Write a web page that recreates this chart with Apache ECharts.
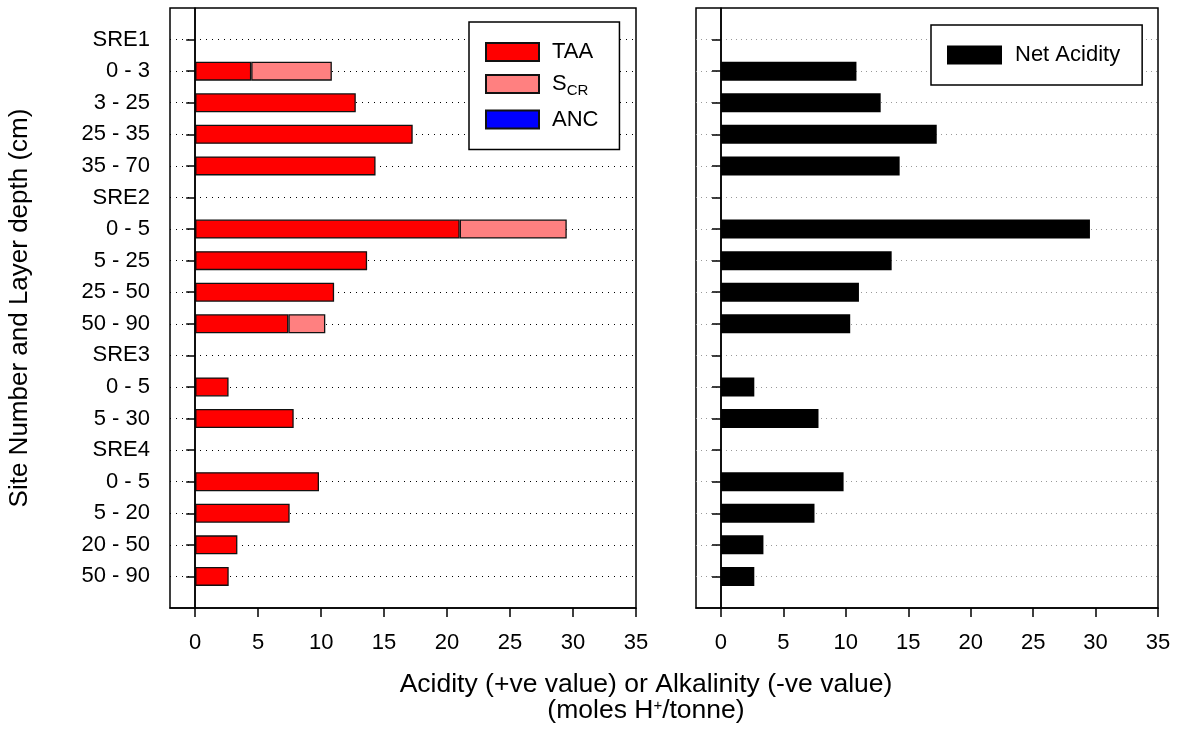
<!DOCTYPE html>
<html><head><meta charset="utf-8">
<script src="https://cdn.jsdelivr.net/npm/echarts@6/dist/echarts.min.js"></script>
<style>html,body{margin:0;padding:0;background:#fff}#c{width:1181px;height:740px}</style>
</head><body><div id="c"></div>
<script>
// Row labels (site headers and layer depths), top to bottom
const categories = ['SRE1','0 - 3','3 - 25','25 - 35','35 - 70','SRE2','0 - 5','5 - 25','25 - 50','50 - 90','SRE3','0 - 5','5 - 30','SRE4','0 - 5','5 - 20','20 - 50','50 - 90'];
// Titratable actual acidity
const taa = [null, 4.45, 12.75, 17.27, 14.32, null, 21.0, 13.65, 11.03, 7.4, null, 2.65, 7.82, null, 9.83, 7.5, 3.35, 2.66];
// Chromium reducible sulfur acidity
const scr = [null, 6.4, null, null, null, null, 8.5, null, null, 2.93, null, null, null, null, null, null, null, null];
// Acid neutralising capacity (none present)
const anc = [null, null, null, null, null, null, null, null, null, null, null, null, null, null, null, null, null, null];
// Net acidity
const netAcidity = [null, 10.85, 12.79, 17.28, 14.31, null, 29.55, 13.67, 11.05, 10.35, null, 2.67, 7.81, null, 9.82, 7.49, 3.4, 2.67];
const xTicks = [0, 5, 10, 15, 20, 25, 30, 35];

const FONT = 'Liberation Sans, Arial, Helvetica, sans-serif';
const pad = arr => [null].concat(arr, [null]);
const axisCats = [''].concat(categories, ['']);
const inner = (idx) => idx > 0 && idx < axisCats.length - 1;

function xAxisCfg(gi) {
  return {
    type: 'value', gridIndex: gi, min: -2, max: 35,
    axisLine: {show: true, onZero: false, lineStyle: {color: '#000', width: 1.5}},
    axisTick: {show: true, customValues: xTicks, length: 9, lineStyle: {color: '#000', width: 1.5}},
    axisLabel: {show: true, customValues: xTicks, fontSize: 22, color: '#000', fontFamily: FONT, margin: 24},
    splitLine: {show: false}
  };
}
function yAxisCfg(gi, showLabels, dotColor, dotType) {
  return {
    type: 'category', gridIndex: gi, inverse: true, boundaryGap: false, data: axisCats,
    axisLine: {show: true, lineStyle: {color: '#000', width: 1.5}},
    axisTick: {show: true, length: 9, interval: inner, lineStyle: {color: '#000', width: 1.5}},
    axisLabel: {show: showLabels, interval: 0, fontSize: 22, color: '#000', fontFamily: FONT, margin: 20},
    splitLine: {show: true, interval: inner, lineStyle: {color: dotColor, type: dotType, width: 1.2}}
  };
}
const zeroLine = {
  silent: true, symbol: 'none', label: {show: false},
  lineStyle: {color: '#000', type: 'solid', width: 1.5},
  emphasis: {disabled: true},
  data: [{xAxis: 0}]
};
const border = {borderColor: '#111', borderWidth: 1.3};

const option = {
  animation: false,
  backgroundColor: '#fff',
  grid: [
    {left: 170, right: 545, top: 8, bottom: 132, show: true, borderColor: '#000', borderWidth: 1.5, backgroundColor: 'transparent'},
    {left: 696, right: 23, top: 8, bottom: 132, show: true, borderColor: '#000', borderWidth: 1.5, backgroundColor: 'transparent'}
  ],
  xAxis: [xAxisCfg(0), xAxisCfg(1)],
  yAxis: [yAxisCfg(0, true, '#000', [1, 5]), yAxisCfg(1, false, '#999', [1, 4])],
  legend: [
    {
      data: ['TAA', 'SCR', 'ANC'], orient: 'vertical', left: 469, top: 22,
      padding: [19, 21, 19, 16], itemGap: 10, itemWidth: 53, itemHeight: 18, icon: 'rect',
      borderColor: '#000', borderWidth: 1.5, backgroundColor: '#fff',
      selectedMode: false,
      formatter: n => n === 'SCR' ? '{a|S}{b|CR}' : '{a|' + n + '}',
      textStyle: {
        color: '#000', fontFamily: FONT, fontSize: 22,
        rich: {
          a: {fontSize: 22, fontFamily: FONT, color: '#000', padding: [0, 0, 0, 8]},
          b: {fontSize: 15, fontFamily: FONT, color: '#000', verticalAlign: 'bottom', padding: [14, 0, 0, 0]}
        }
      }
    },
    {
      data: ['Net Acidity'], orient: 'vertical', left: 931, top: 25,
      padding: [19, 22, 19, 16], itemWidth: 55, itemHeight: 19, icon: 'rect',
      borderColor: '#000', borderWidth: 1.5, backgroundColor: '#fff',
      selectedMode: false,
      formatter: n => '{a|' + n + '}',
      textStyle: {
        color: '#000', fontFamily: FONT, fontSize: 22,
        rich: {a: {fontSize: 22, fontFamily: FONT, color: '#000', padding: [0, 0, 0, 8]}}
      }
    }
  ],
  series: [
    {name: 'TAA', type: 'bar', xAxisIndex: 0, yAxisIndex: 0, stack: 'acid', barWidth: 19,
     data: pad(taa), itemStyle: Object.assign({color: '#FF0000'}, border), markLine: zeroLine},
    {name: 'SCR', type: 'bar', xAxisIndex: 0, yAxisIndex: 0, stack: 'acid', barWidth: 19,
     data: pad(scr), itemStyle: Object.assign({color: '#FF8080'}, border)},
    {name: 'ANC', type: 'bar', xAxisIndex: 0, yAxisIndex: 0, stack: 'acid', barWidth: 19,
     data: pad(anc), itemStyle: Object.assign({color: '#0000FF'}, border)},
    {name: 'Net Acidity', type: 'bar', xAxisIndex: 1, yAxisIndex: 1, barWidth: 19,
     data: pad(netAcidity), itemStyle: {color: '#000'}, markLine: zeroLine}
  ],
  graphic: [
    {type: 'text', x: 20, y: 308, rotation: Math.PI / 2,
     style: {text: 'Site Number and Layer depth (cm)', fontSize: 26, fontFamily: FONT, fill: '#000', align: 'center', verticalAlign: 'middle'}},
    {type: 'text', x: 646, y: 698,
     style: {text: 'Acidity (+ve value) or Alkalinity (-ve value)\n(moles H{sup|+}/tonne)', fontSize: 26.5, lineHeight: 26, fontFamily: FONT, fill: '#000', align: 'center', verticalAlign: 'middle',
       rich: {sup: {fontSize: 15, fontFamily: FONT, fill: '#000', verticalAlign: 'top'}}}}
  ]
};
const chart = echarts.init(document.getElementById('c'), null, {renderer: 'canvas'});
chart.setOption(option);
</script></body></html>
